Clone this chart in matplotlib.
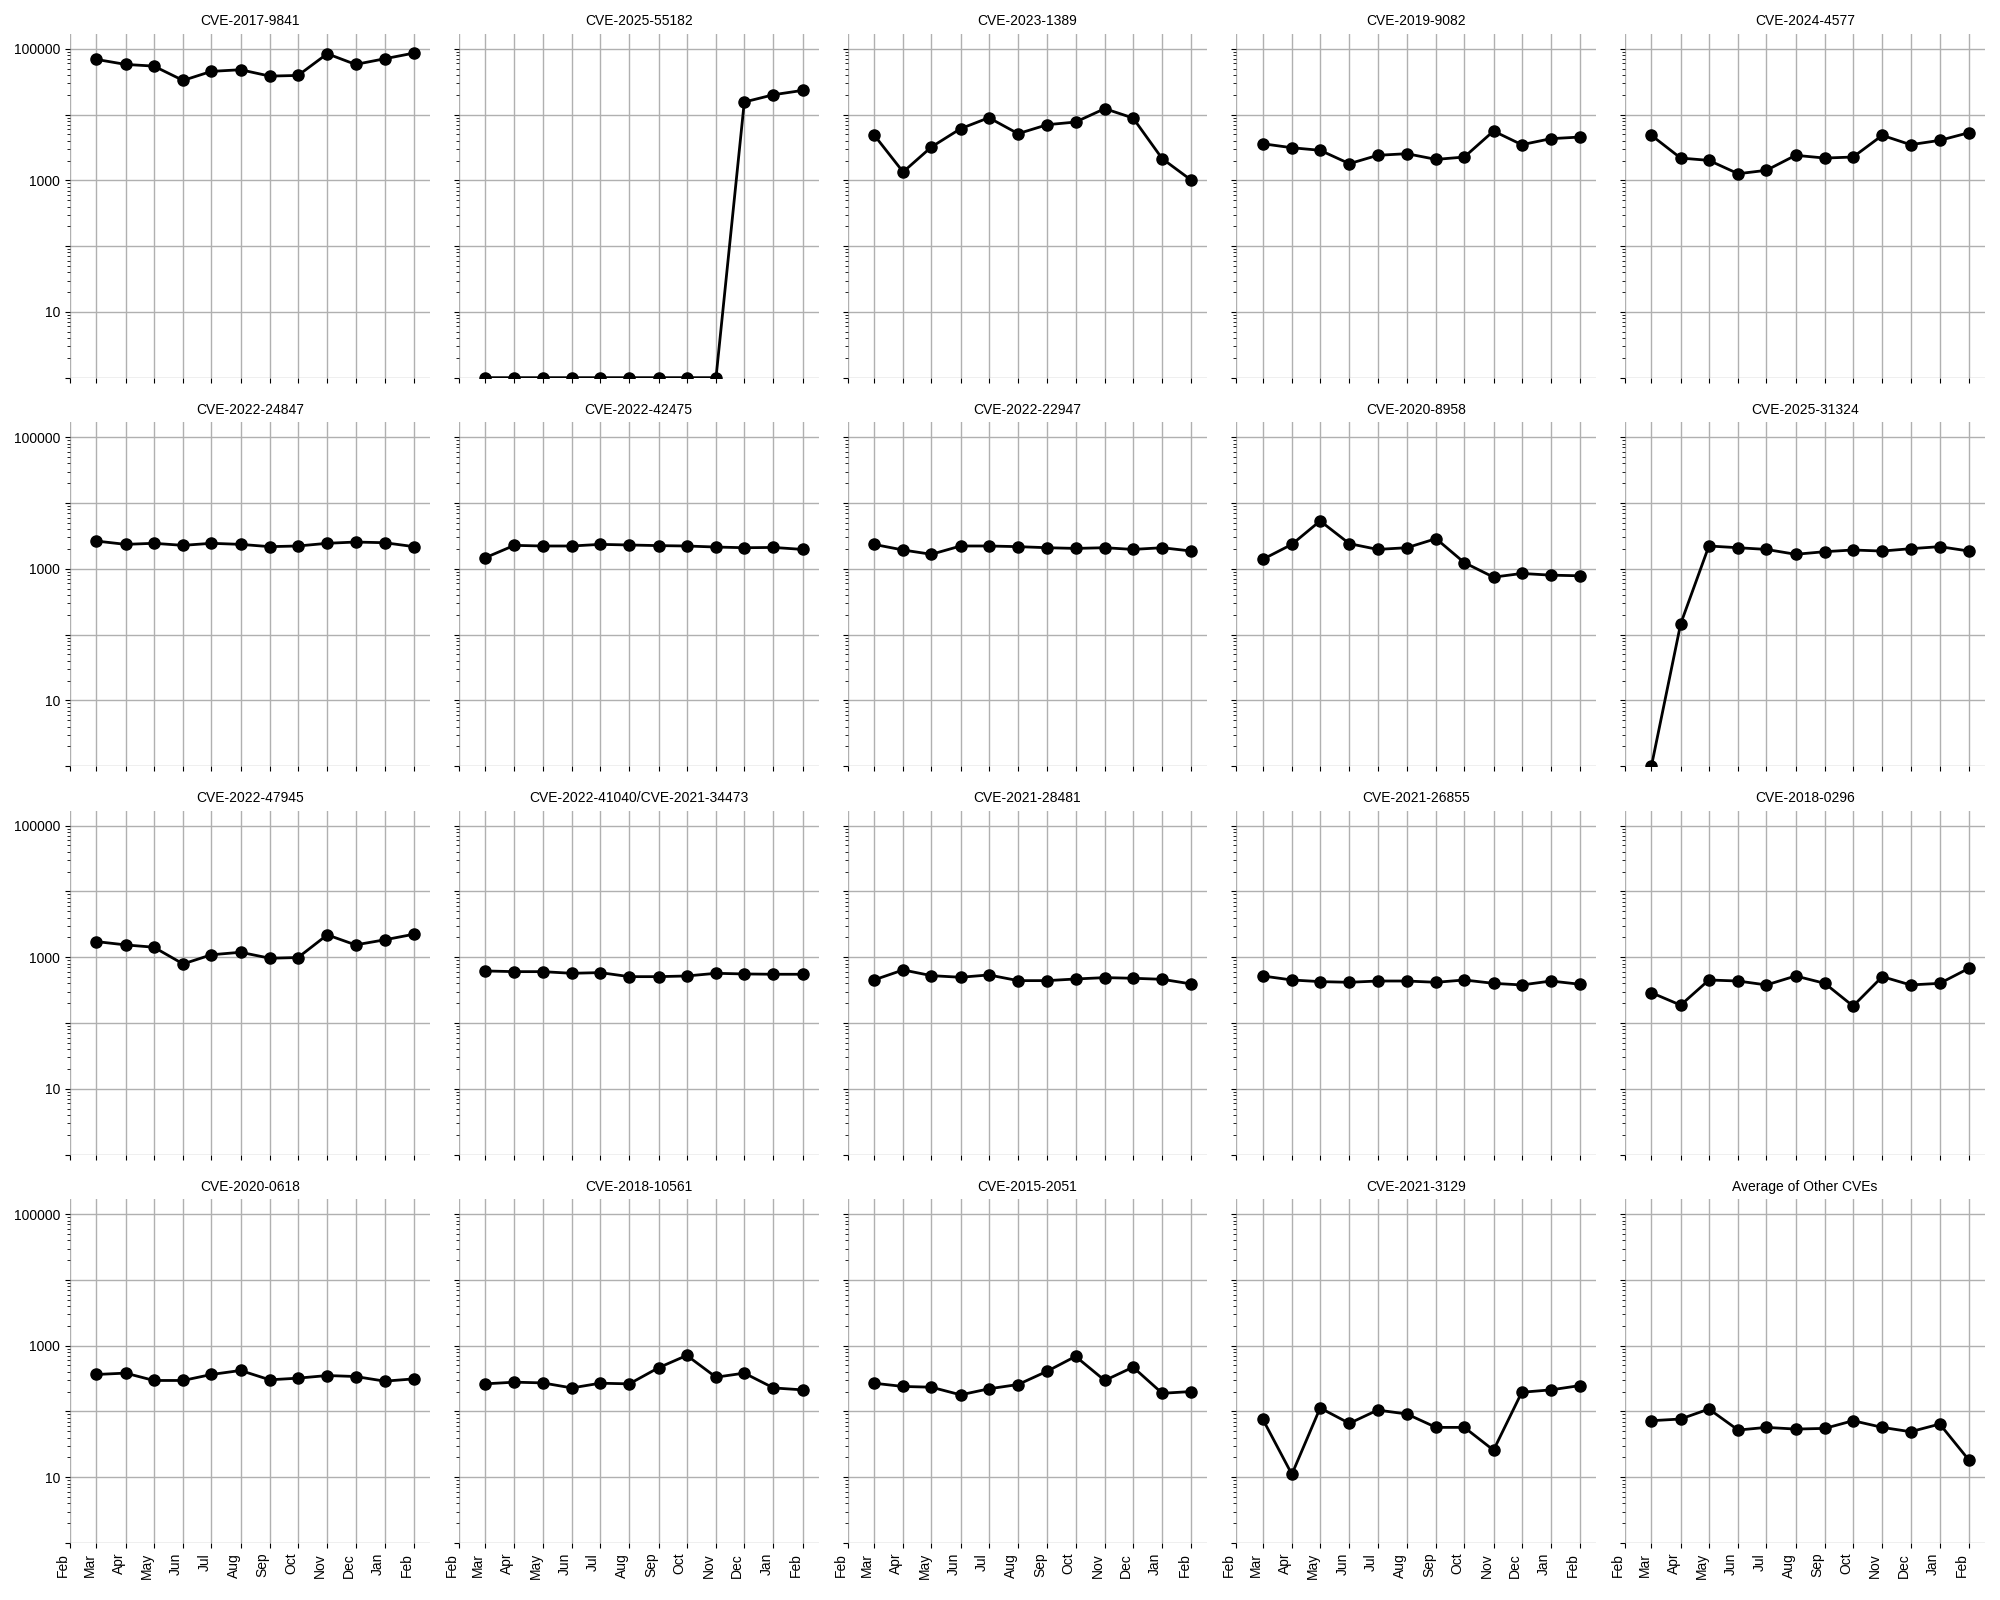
import numpy as np
import pandas as pd
import matplotlib
matplotlib.use("Agg")
import matplotlib.pyplot as plt
import matplotlib.dates as mdates
from matplotlib.ticker import FixedLocator, FuncFormatter, LogLocator, NullFormatter

plt.rcParams['font.family'] = ['Liberation Sans', 'DejaVu Sans']
plt.rcParams['font.size'] = 10

# monthly points, Mar 2025 .. Feb 2026
months = pd.date_range('2025-03-01', periods=12, freq='MS')

titles = [
    'CVE-2017-9841', 'CVE-2025-55182', 'CVE-2023-1389', 'CVE-2019-9082', 'CVE-2024-4577',
    'CVE-2022-24847', 'CVE-2022-42475', 'CVE-2022-22947', 'CVE-2020-8958', 'CVE-2025-31324',
    'CVE-2022-47945', 'CVE-2022-41040/CVE-2021-34473', 'CVE-2021-28481', 'CVE-2021-26855', 'CVE-2018-0296',
    'CVE-2020-0618', 'CVE-2018-10561', 'CVE-2015-2051', 'CVE-2021-3129', 'Average of Other CVEs',
]

cve_2017_9841 = [68900, 57800, 54500, 33000, 45300, 48000, 38400, 39300, 84000, 57800, 70500, 86000]
cve_2025_55182 = [1, 1, 1, 1, 1, 1, 1, 1, 1, 15500, 20000, 23300]
cve_2023_1389 = [4940, 1340, 3210, 6100, 8950, 5120, 7010, 7690, 12300, 8850, 2130, 1000]
cve_2019_9082 = [3600, 3130, 2860, 1790, 2400, 2540, 2080, 2260, 5610, 3480, 4300, 4550]
cve_2024_4577 = [4830, 2180, 2010, 1260, 1420, 2400, 2180, 2260, 4830, 3480, 4050, 5300]

cve_2022_24847 = [2640, 2350, 2440, 2270, 2440, 2350, 2170, 2220, 2440, 2550, 2490, 2170]
cve_2022_42475 = [1470, 2270, 2220, 2220, 2350, 2300, 2250, 2220, 2140, 2090, 2110, 1970]
cve_2022_22947 = [2350, 1930, 1660, 2220, 2220, 2170, 2090, 2040, 2090, 1970, 2090, 1860]
cve_2020_8958 = [1390, 2350, 5340, 2410, 1970, 2090, 2870, 1240, 746, 849, 800, 782]
cve_2025_31324 = [1, 145, 2220, 2090, 1970, 1660, 1820, 1930, 1860, 2020, 2170, 1860]

cve_2022_47945 = [1730, 1540, 1420, 791, 1090, 1190, 966, 990, 2190, 1540, 1840, 2240]
cve_2022_41040 = [619, 604, 604, 570, 584, 507, 507, 519, 570, 557, 551, 551]
cve_2021_28481 = [451, 641, 525, 496, 538, 441, 441, 467, 490, 479, 462, 392]
cve_2021_26855 = [519, 451, 426, 416, 435, 435, 416, 451, 401, 379, 435, 388]
cve_2018_0296 = [289, 187, 451, 435, 379, 519, 401, 181, 507, 379, 401, 680]

cve_2020_0618 = [365, 383, 296, 296, 365, 420, 303, 321, 352, 340, 289, 313]
cve_2018_10561 = [263, 279, 272, 228, 269, 263, 462, 712, 332, 383, 228, 213]
cve_2015_2051 = [269, 240, 234, 179, 221, 257, 410, 688, 296, 472, 189, 201]
cve_2021_3129 = [76.8, 11.1, 113, 66, 105, 91.6, 57.3, 57.3, 25.8, 196, 213, 248]
other_avg = [72.4, 76.8, 109, 52.2, 57.3, 54, 55.3, 72.4, 57.3, 49.2, 64.4, 18.2]

series = [
    cve_2017_9841, cve_2025_55182, cve_2023_1389, cve_2019_9082, cve_2024_4577,
    cve_2022_24847, cve_2022_42475, cve_2022_22947, cve_2020_8958, cve_2025_31324,
    cve_2022_47945, cve_2022_41040, cve_2021_28481, cve_2021_26855, cve_2018_0296,
    cve_2020_0618, cve_2018_10561, cve_2015_2051, cve_2021_3129, other_avg,
]

labelled = {10, 1000, 100000}


def ylabel(v, pos):
    return str(int(round(v))) if int(round(v)) in labelled else ''


fig, axes = plt.subplots(4, 5, figsize=(20, 16), dpi=100, sharex=True, sharey=True)
fig.subplots_adjust(left=0.035, right=0.9925, top=0.979, bottom=0.0356,
                    wspace=0.08, hspace=0.129)

for ax, title, vals in zip(axes.flat, titles, series):
    ax.plot(months, vals, color='black', marker='o', markersize=8, linewidth=2)
    ax.set_title(title, fontsize=10)
    ax.set_yscale('log')
    for s in ax.spines.values():
        s.set_visible(False)
    ax.grid(True, which='major', color='#b0b0b0', linewidth=1.0)

ax0 = axes[0, 0]
ax0.set_ylim(1, 1.7e5)
ax0.yaxis.set_major_locator(FixedLocator([1, 10, 100, 1000, 10000, 100000]))
ax0.yaxis.set_major_formatter(FuncFormatter(ylabel))
ax0.yaxis.set_minor_locator(LogLocator(base=10, subs=np.arange(2, 10)))
ax0.yaxis.set_minor_formatter(NullFormatter())
ax0.set_xlim(pd.Timestamp('2025-02-01'), pd.Timestamp('2026-02-18'))
ax0.xaxis.set_major_locator(mdates.MonthLocator())
ax0.xaxis.set_major_formatter(mdates.DateFormatter('%b'))

for ax in axes[-1]:
    for lbl in ax.get_xticklabels():
        lbl.set_rotation(90)
        lbl.set_ha('right')

fig.savefig('out.png', dpi=100)
